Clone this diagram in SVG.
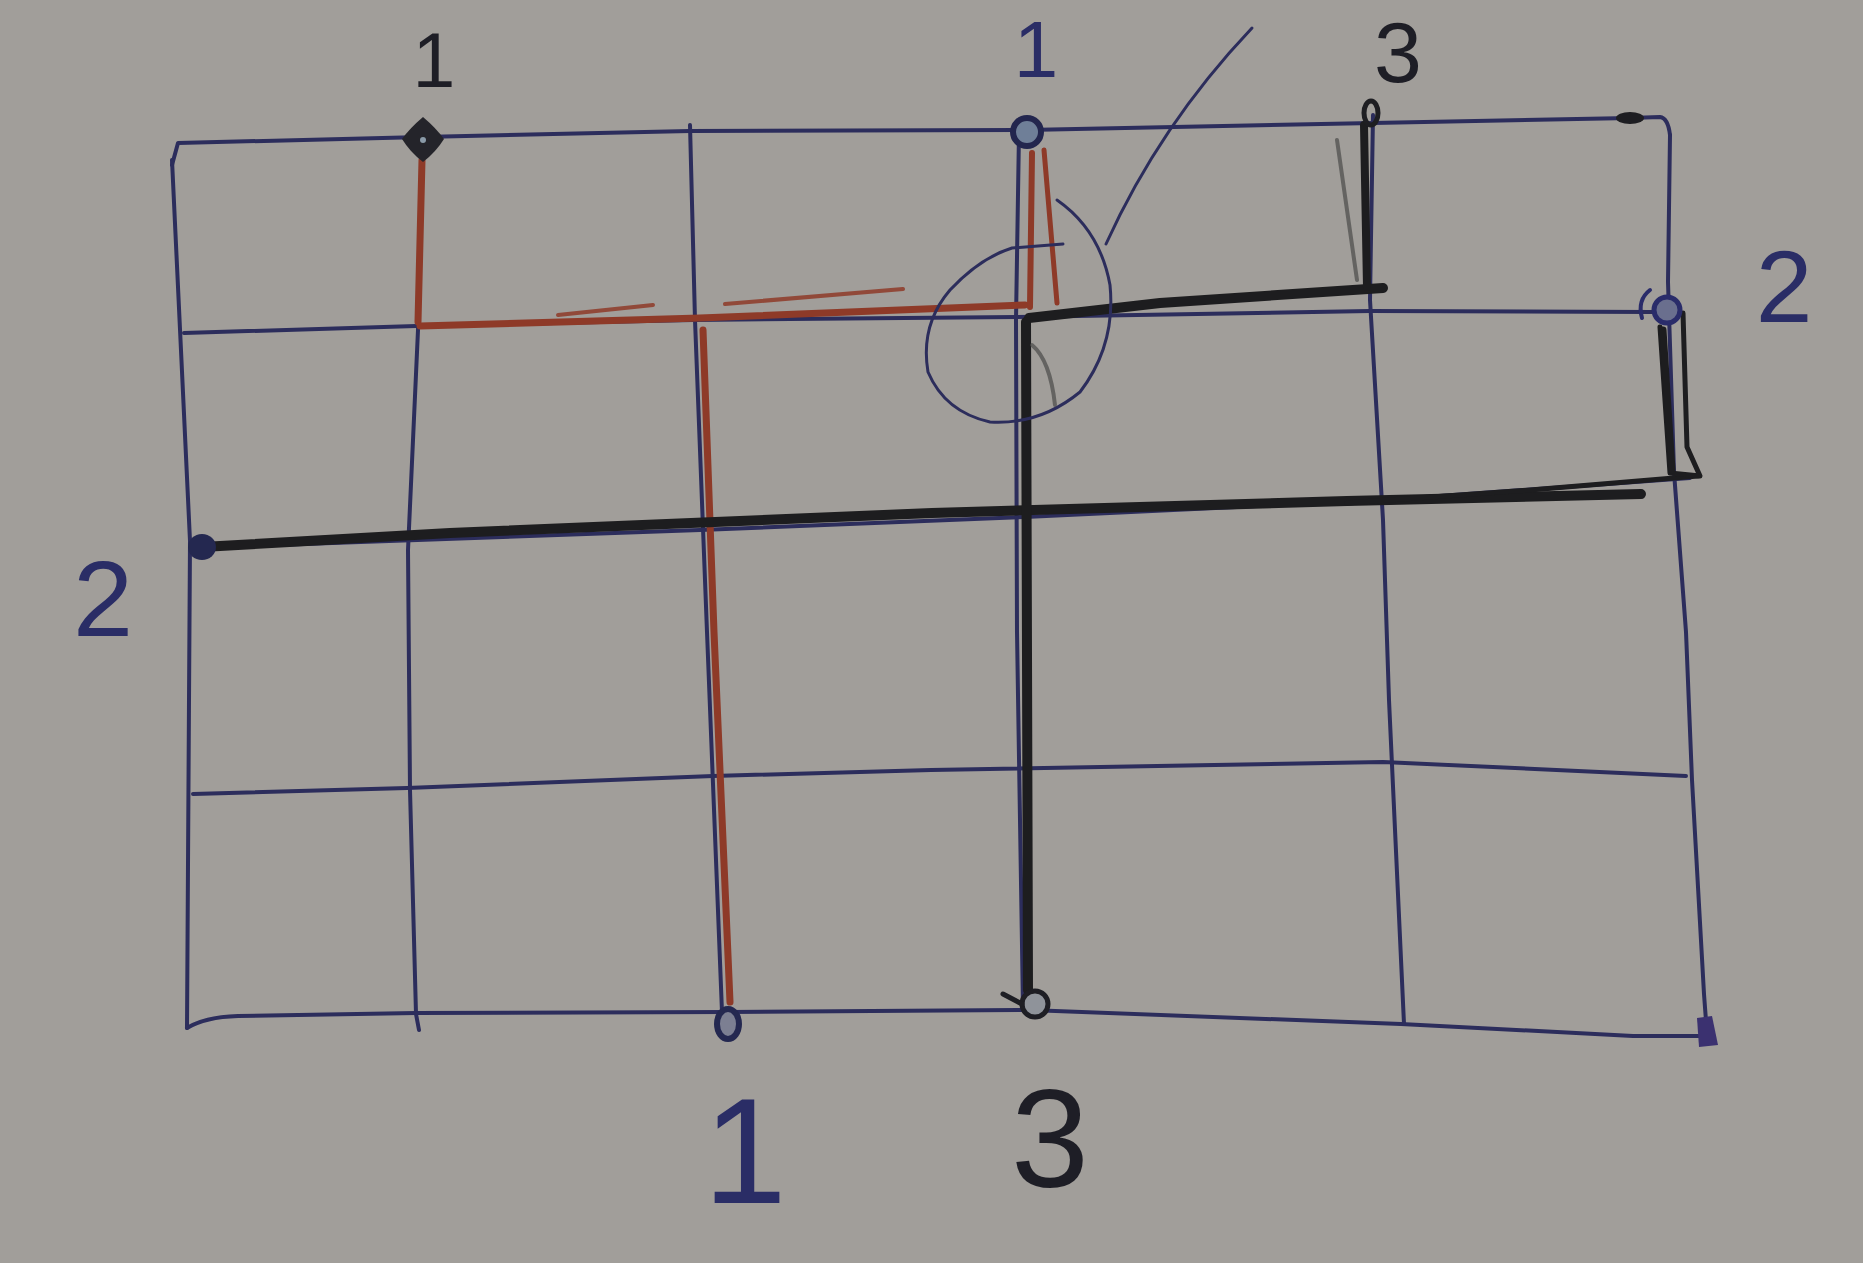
<svg xmlns="http://www.w3.org/2000/svg" width="1863" height="1263" viewBox="0 0 1863 1263">
<style>
.g{fill:none;stroke:#2c2d5c;stroke-width:4;stroke-linecap:round;stroke-linejoin:round}
.r{fill:none;stroke:#8e3a28;stroke-width:7;stroke-linecap:round;stroke-linejoin:round}
.rs{fill:none;stroke:#8e3a28;stroke-width:4;stroke-linecap:round;opacity:.85}
.b{fill:none;stroke:#1d1d1f;stroke-width:10;stroke-linecap:round;stroke-linejoin:round}
.bt{fill:none;stroke:#1d1d1f;stroke-width:5;stroke-linecap:round;stroke-linejoin:round}
.gs{fill:none;stroke:#4a4a48;stroke-width:4;stroke-linecap:round;opacity:.7}
.t{font-family:"Liberation Sans",Arial,sans-serif;text-anchor:middle}
.tb{fill:#2a2d66}
.tk{fill:#1e1e26}
</style>
<rect x="0" y="0" width="1863" height="1263" fill="#a19e9a"/>

<g id="grid">
<path class="g" d="M172,165 L178,143 L422,137 L690,131 L1027,130 L1373,123 L1630,118 L1660,117 Q1668,118 1670,135"/>
<path class="g" d="M184,333 L416,326 L693,320 L1017,317 L1370,311 L1652,312"/>
<path class="g" d="M190,548 L700,530 L1025,517 L1385,500 L1690,478"/>
<path class="g" d="M193,794 L407,788 L713,776 L931,770 L1383,762 L1686,776"/>
<path class="g" d="M187,1028 Q205,1017 238,1016 L416,1013 L728,1012 L1029,1010 L1401,1024 L1633,1036 L1705,1036"/>
<path class="g" d="M172,160 L190,541 L189,700 L187,1028"/>
<path class="g" d="M422,140 L418,330 L408,550 L410,790 L416,1014 L419,1030"/>
<path class="g" d="M690,125 L695,320 L707,632 L722,1012"/>
<path class="g" d="M1019,132 L1016,320 L1017,632 L1023,1008"/>
<path class="g" d="M1373,115 L1370,300 L1383,520 L1389,700 L1404,1024"/>
<path class="g" d="M1670,135 L1668,282 L1674,472 L1686,632 L1692,780 L1704,994 L1707,1034"/>
</g>

<g id="connectors">
<path id="red-1a" class="r" d="M422,160 L418,322"/>
<path id="red-1b" class="r" d="M420,326 L700,318 L1025,305"/>
<path class="rs" d="M558,315 L653,305"/>
<path class="rs" d="M725,304 L903,289"/>
<path id="red-1c" class="r" d="M703,330 L714,632 L730,1002"/>
<path id="red-1d" class="r" d="M1032,153 L1030,307" style="stroke-width:6"/>
<path class="r" d="M1044,150 L1057,303" style="stroke-width:5"/>

<path id="black-2" class="b" d="M202,547 L450,533 L932,513 L1347,501 L1641,494"/>
<path class="bt" d="M1347,503 L1530,490 L1698,476"/>
<path id="black-3a" class="b" d="M1029,318 L1160,303 L1383,288"/>
<path id="black-3b" class="b" d="M1026,322 L1028,990"/>
<path class="gs" d="M1032,345 Q1050,360 1055,405"/>
<path id="black-3c" class="b" d="M1364,125 L1367,287" style="stroke-width:8"/>
<path class="gs" d="M1337,140 L1357,280"/>
<path id="black-2b" class="bt" d="M1660,327 L1670,473 L1700,476 L1687,447 L1683,313"/>
<path class="bt" d="M1663,330 L1672,470" style="stroke-width:7"/>

<path id="leader" class="g" style="stroke-width:3" d="M1252,28 Q1160,125 1106,244"/>
<path id="circle" class="g" style="stroke-width:3" d="M1057,200 Q1100,230 1110,285 Q1116,345 1080,392 Q1040,425 990,422 Q945,412 928,372 Q920,325 950,290 Q980,258 1012,248 L1063,244"/>
</g>

<g id="markers">
<path id="dot-a" d="M423,117 Q436,128 444,139 Q436,152 423,162 Q410,152 402,139 Q410,128 423,117 Z" fill="#24242a"/>
<circle cx="423" cy="140" r="3" fill="#8a9aa8"/>
<circle id="dot-b" cx="1027" cy="132" r="14" fill="#6f7f98" stroke="#23264e" stroke-width="6"/>
<ellipse id="dot-c" cx="1630" cy="118" rx="14" ry="6" fill="#1e1e22"/>
<ellipse id="dot-d" cx="1371" cy="113" rx="7" ry="12" fill="none" stroke="#1e1e22" stroke-width="5"/>
<circle id="dot-e" cx="1667" cy="310" r="13" fill="#6a6f8e" stroke="#2a2c6a" stroke-width="5"/>
<path d="M1650,290 Q1637,300 1642,318" fill="none" stroke="#2a2c6a" stroke-width="4" stroke-linecap="round"/>
<ellipse id="dot-f" cx="202" cy="547" rx="14" ry="13" fill="#242850"/>
<ellipse id="dot-g" cx="728" cy="1024" rx="11" ry="15" fill="#7c7f92" stroke="#242850" stroke-width="6"/>
<circle id="dot-h" cx="1035" cy="1004" r="13" fill="#8f939a" stroke="#1e1e24" stroke-width="5"/>
<path d="M1003,994 L1022,1004" fill="none" stroke="#1e1e24" stroke-width="5" stroke-linecap="round"/>
<path id="dot-i" d="M1697,1018 L1712,1016 L1718,1045 L1699,1047 Z" fill="#3b3170"/>
</g>

<g id="labels">
<text class="t tk" x="434" y="87" font-size="77">1</text>
<text class="t tb" x="1036" y="77" font-size="80">1</text>
<text class="t tk" x="1398" y="82" font-size="86">3</text>
<text class="t tb" x="1784" y="322" font-size="102">2</text>
<text class="t tb" x="103" y="636" font-size="108">2</text>
<text class="t tb" x="745" y="1203" font-size="150">1</text>
<text class="t tk" x="1050" y="1187" font-size="140">3</text>
</g>
</svg>
